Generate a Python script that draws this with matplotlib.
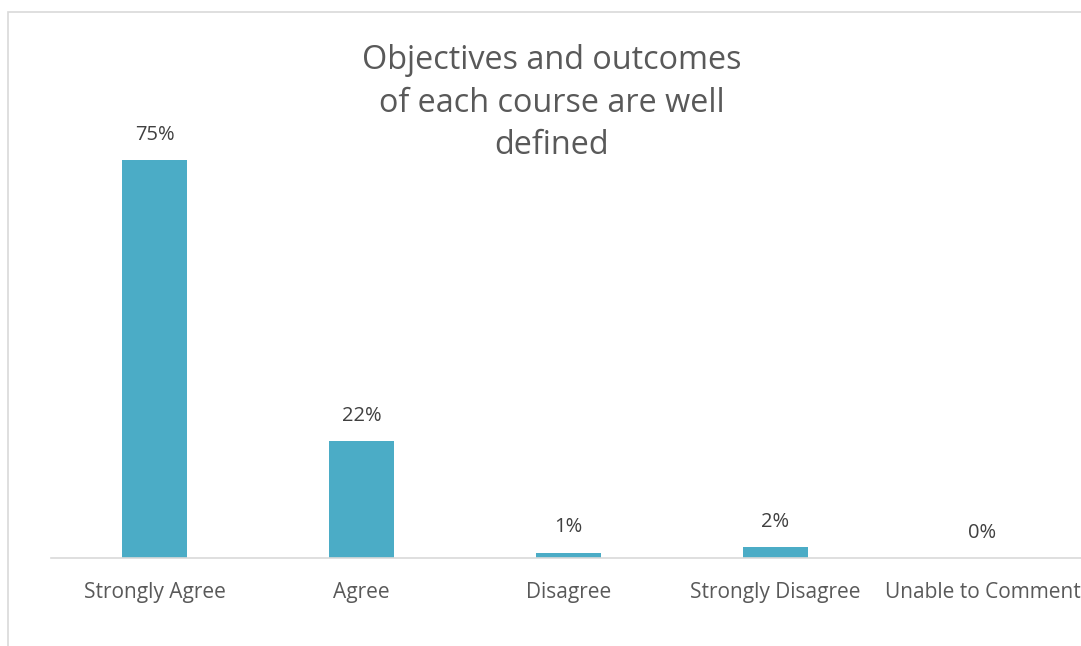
import matplotlib
matplotlib.use("Agg")
from matplotlib import pyplot as plt
import matplotlib.patches as mpatches

categories = ["Strongly Agree", "Agree", "Disagree", "Strongly Disagree", "Unable to Comment"]
values = [75, 22, 1, 2, 0]
labels = ["75%", "22%", "1%", "2%", "0%"]

plt.rcParams['font.family'] = ['Open Sans', 'DejaVu Sans']

W, H = 1081, 646
fig = plt.figure(figsize=(W / 100, H / 100), dpi=100)

# light border of the chart area (cut off right and bottom)
border = mpatches.Rectangle((8 / W, -0.1), 1.2, 1 - 12 / H + 0.1, transform=fig.transFigure,
                            fill=False, edgecolor="#d9d9d9", linewidth=1.2)
fig.patches.append(border)

ax = fig.add_axes([51 / W, 88 / H, 1035 / W, 424.5 / H])
x = range(len(categories))
ax.bar(x, values, width=0.315, color="#4bacc6")
for i, v in enumerate(values):
    ax.annotate(labels[i], (i, v), xytext=(0, 11), textcoords="offset points",
                ha="center", va="bottom", fontsize=14.5, color="#404040")

ax.set_xlim(-0.5, 4.5)
ax.set_ylim(0, 80)
ax.set_yticks([])
ax.set_xticks(list(x))
ax.set_xticklabels(categories, fontsize=15, color="#595959")
ax.tick_params(axis="x", length=0, pad=17)
for s in ["top", "right", "left"]:
    ax.spines[s].set_visible(False)
ax.spines["bottom"].set_color("#d9d9d9")
ax.spines["bottom"].set_linewidth(1.2)

fig.text(552 / W, 1 - 103 / H, "Objectives and outcomes\nof each course are well\ndefined",
         ha="center", va="center", fontsize=23.3, color="#595959", linespacing=1.38)

fig.savefig("out.png", dpi=100)
